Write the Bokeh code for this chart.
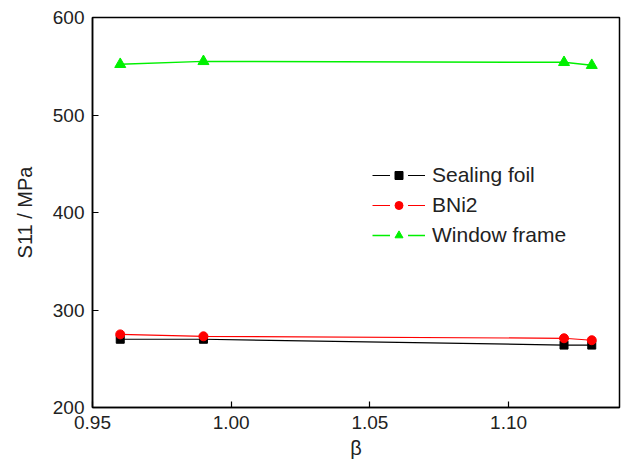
from bokeh.plotting import figure
from bokeh.models import Range1d, Legend, LegendItem, FixedTicker
from bokeh.embed import file_html
from bokeh.resources import INLINE

beta = [0.96, 0.99, 1.12, 1.13]
sealing_foil = [270, 270, 264, 264]
bni2 = [275, 273, 271, 269]
window_frame = [552, 555, 554, 551]

x_ticks = [0.95, 1.00, 1.05, 1.10]
y_ticks = [200, 300, 400, 500, 600]

FONT = "Liberation Sans"
GREEN = "#00f000"

p = figure(width=627, height=466, output_backend="svg", toolbar_location=None,
           x_range=Range1d(0.95, 1.14), y_range=Range1d(200, 600),
           min_border_left=92, min_border_right=8, min_border_top=17, min_border_bottom=59)

p.xgrid.visible = False
p.ygrid.visible = False
p.outline_line_color = "black"
p.outline_line_width = 1.5
p.background_fill_color = "white"
p.border_fill_color = "white"

for ax in (p.xaxis[0], p.yaxis[0]):
    ax.major_tick_in = 6
    ax.major_tick_out = 0
    ax.minor_tick_line_color = None
    ax.axis_line_width = 1.5
    ax.major_tick_line_width = 1.2
    ax.major_label_text_font = FONT
    ax.major_label_text_font_size = "19px"
    ax.major_label_text_color = "#222222"
    ax.axis_label_text_font = FONT
    ax.axis_label_text_font_size = "20px"
    ax.axis_label_text_font_style = "normal"
    ax.axis_label_text_color = "#222222"

p.xaxis.ticker = FixedTicker(ticks=x_ticks)
p.yaxis.ticker = FixedTicker(ticks=y_ticks)
p.xaxis.major_label_overrides = {t: f"{t:.2f}" for t in x_ticks}
p.xaxis.axis_label = "β"
p.yaxis.axis_label = "S11 / MPa"
p.xaxis.major_label_standoff = 8
p.yaxis.major_label_standoff = 8
p.xaxis.axis_label_standoff = 5
p.yaxis.axis_label_standoff = 14

series = [
    ("Sealing foil", sealing_foil, "black", "square", 8, 1.2),
    ("BNi2", bni2, "#ff0000", "circle", 9, 1.2),
    ("Window frame", window_frame, GREEN, "triangle", 11, 1.5),
]

# a point outside the visible ranges: the legend-only glyphs draw nothing in the frame
off_x = [5.0]
off_y = [-1000.0]

items = []
for label, ys, color, marker, size, lw in series:
    p.line(beta, ys, line_color=color, line_width=lw)
    p.scatter(beta, ys, marker=marker, size=size, fill_color=color, line_color=color)
    dl = p.line(off_x, off_y, line_color=color, line_width=lw)
    dh = p.scatter(off_x, off_y, marker="square", size=size, fill_color="white",
                   line_color="white", line_width=10)
    dm = p.scatter(off_x, off_y, marker=marker, size=size, fill_color=color, line_color=color)
    items.append(LegendItem(label=label, renderers=[dl, dh, dm]))

legend = Legend(items=items, location=(280, 157))
legend.border_line_color = None
legend.background_fill_alpha = 0
legend.padding = 0
legend.margin = 0
legend.spacing = 0
legend.glyph_width = 53
legend.glyph_height = 20
legend.label_height = 30
legend.label_standoff = 7
legend.label_text_font = FONT
legend.label_text_font_size = "21px"
legend.label_text_color = "#222222"
p.add_layout(legend, "center")

open("out.html", "w").write(file_html(p, INLINE))
